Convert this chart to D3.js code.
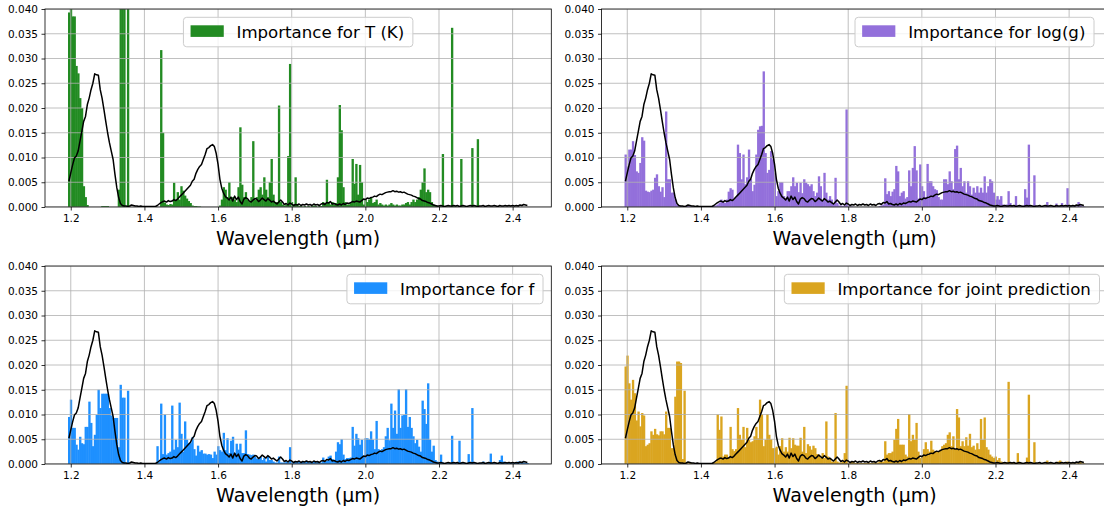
<!DOCTYPE html>
<html><head><meta charset="utf-8">
<script src="https://cdn.jsdelivr.net/npm/d3@7"></script>
<style>
body{margin:0;background:#fff}
svg{display:block}
text{font-family:"DejaVu Sans",sans-serif}
</style>
</head><body>
<svg id="chart" width="1104" height="510"></svg>
<script>
// Wavelength grid (µm), one bar per entry
const wavelengths = [
1.195,1.200,1.205,1.210,1.215,1.220,1.225,1.230,1.235,1.240,
1.245,1.250,1.255,1.260,1.265,1.270,1.275,1.280,1.285,1.290,
1.295,1.300,1.305,1.310,1.315,1.320,1.325,1.330,1.335,1.340,
1.345,1.350,1.355,1.360,1.365,1.370,1.375,1.380,1.385,1.390,
1.395,1.400,1.405,1.410,1.415,1.420,1.425,1.430,1.435,1.440,
1.445,1.450,1.455,1.460,1.465,1.470,1.475,1.480,1.485,1.490,
1.495,1.500,1.505,1.510,1.515,1.520,1.525,1.530,1.535,1.540,
1.545,1.550,1.555,1.560,1.565,1.570,1.575,1.580,1.585,1.590,
1.595,1.600,1.605,1.610,1.615,1.620,1.625,1.630,1.635,1.640,
1.645,1.650,1.655,1.660,1.665,1.670,1.675,1.680,1.685,1.690,
1.695,1.700,1.705,1.710,1.715,1.720,1.725,1.730,1.735,1.740,
1.745,1.750,1.755,1.760,1.765,1.770,1.775,1.780,1.785,1.790,
1.795,1.800,1.805,1.810,1.815,1.820,1.825,1.830,1.835,1.840,
1.845,1.850,1.855,1.860,1.865,1.870,1.875,1.880,1.885,1.890,
1.895,1.900,1.905,1.910,1.915,1.920,1.925,1.930,1.935,1.940,
1.945,1.950,1.955,1.960,1.965,1.970,1.975,1.980,1.985,1.990,
1.995,2.000,2.005,2.010,2.015,2.020,2.025,2.030,2.035,2.040,
2.045,2.050,2.055,2.060,2.065,2.070,2.075,2.080,2.085,2.090,
2.095,2.100,2.105,2.110,2.115,2.120,2.125,2.130,2.135,2.140,
2.145,2.150,2.155,2.160,2.165,2.170,2.175,2.180,2.185,2.190,
2.195,2.200,2.205,2.210,2.215,2.220,2.225,2.230,2.235,2.240,
2.245,2.250,2.255,2.260,2.265,2.270,2.275,2.280,2.285,2.290,
2.295,2.300,2.305,2.310,2.315,2.320,2.325,2.330,2.335,2.340,
2.345,2.350,2.355,2.360,2.365,2.370,2.375,2.380,2.385,2.390,
2.395,2.400,2.405,2.410,2.415,2.420,2.425,2.430,2.435,2.440];

// Normalised spectrum (black line), same in every panel
const spectrum = [
.0052,.0069,.0085,.0099,.0103,.0113,.0133,.0153,.0173,.0183,
.0207,.0220,.0237,.0250,.0269,.0267,.0266,.0237,.0220,.0197,
.0173,.0150,.0130,.0113,.0096,.0066,.0039,.0019,.0007,.0003,
.0002,.0002,.0001,.0002,.0004,.0003,.0002,.0002,.0001,.0002,
.0001,.0001,.0001,.0001,.0001,.0001,.0001,.0001,.0003,.0006,
.0009,.0011,.0012,.0010,.0013,.0011,.0012,.0015,.0013,.0016,
.0020,.0024,.0028,.0032,.0036,.0040,.0044,.0052,.0056,.0068,
.0076,.0082,.0086,.0096,.0106,.0118,.0120,.0124,.0126,.0122,
.0108,.0086,.0056,.0038,.0028,.0021,.0018,.0014,.0020,.0012,
.0022,.0015,.0020,.0011,.0006,.0016,.0019,.0017,.0012,.0010,
.0014,.0017,.0016,.0011,.0014,.0018,.0015,.0012,.0017,.0014,
.0010,.0012,.0009,.0006,.0010,.0014,.0010,.0005,.0007,.0004,
.0008,.0006,.0003,.0005,.0004,.0006,.0003,.0005,.0004,.0006,
.0004,.0005,.0003,.0006,.0004,.0005,.0003,.0006,.0007,.0005,
.0009,.0008,.0011,.0006,.0007,.0005,.0004,.0006,.0004,.0007,
.0005,.0008,.0007,.0009,.0011,.0010,.0012,.0011,.0010,.0013,
.0016,.0015,.0018,.0017,.0019,.0020,.0022,.0021,.0024,.0026,
.0025,.0027,.0029,.0030,.0031,.0031,.0033,.0031,.0032,.0030,
.0031,.0029,.0030,.0028,.0026,.0025,.0024,.0022,.0021,.0019,
.0017,.0016,.0013,.0012,.0011,.0009,.0008,.0006,.0004,.0003,
.0002,.0002,.0003,.0002,.0001,.0002,.0003,.0002,.0002,.0003,
.0002,.0003,.0001,.0002,.0003,.0002,.0001,.0002,.0003,.0002,
.0003,.0002,.0001,.0002,.0002,.0003,.0001,.0002,.0003,.0002,
.0002,.0003,.0002,.0001,.0003,.0002,.0002,.0003,.0002,.0003,
.0002,.0003,.0002,.0003,.0002,.0004,.0003,.0005,.0004,.0003];

const importanceT = [
.0393,.0450,.0385,.0385,.0285,.0270,.0220,.0200,.0042,.0020,
.0004,0,0,0,0,0,0,0,.0002,.0002,
.0002,.0002,0,0,0,0,0,.0035,.0450,.0450,
.0450,0,.0450,0,0,0,0,0,0,0,
0,0,0,0,0,0,0,0,0,0,
.0317,.0150,.0009,.0005,.0004,.0006,.0005,.0049,.0015,.0030,
.0015,.0042,.0033,.0023,.0017,.0012,.0008,.0003,.0002,.0002,
.0001,.0001,0,0,0,0,0,0,0,0,
0,0,.0003,.0015,.0040,.0035,.0020,.0050,.0015,.0020,
.0015,.0010,.0040,.0161,.0045,.0020,.0030,.0015,.0010,.0020,
.0133,.0015,.0020,.0035,.0040,.0025,.0060,.0035,.0020,.0050,
.0097,.0025,.0010,.0010,.0205,.0010,.0005,.0003,.0005,.0103,
.0289,.0010,.0005,.0060,.0005,.0002,.0002,0,.0002,0,
.0002,0,.0002,.0003,.0002,0,.0003,.0002,.0010,.0008,
.0055,.0010,.0005,.0010,.0005,.0008,.0060,.0206,.0155,.0040,
.0010,.0005,.0005,.0008,.0097,.0047,.0087,.0025,.0085,.0050,
.0005,.0015,.0010,.0015,.0020,.0008,.0010,.0015,.0005,.0008,
.0005,.0003,.0005,.0003,.0005,.0008,.0005,.0003,.0005,.0003,
.0003,.0005,.0005,.0008,.0010,.0005,.0010,.0015,.0010,.0015,
.0020,.0035,.0050,.0078,.0030,.0035,.0030,.0010,.0005,.0002,
.0002,.0001,.0001,.0107,.0001,.0001,.0001,0,.0362,.0001,
.0001,0,0,.0097,.0001,0,0,0,0,.0119,
.0001,.0001,.0137,0,0,0,0,0,0,0,
0,0,0,0,0,0,0,0,0,0,
0,0,0,0,0,0,0,0,0,0];

const importanceLogg = [
.0106,.0082,.0116,.0116,.0133,.0105,.0072,.0069,.0089,.0141,
.0134,.0033,.0031,.0030,.0033,.0035,.0059,.0066,.0042,.0031,
.0040,.0020,.0193,.0056,.0056,.0029,.0029,.0015,.0005,.0003,
.0002,.0001,.0001,.0002,.0003,.0001,.0001,.0002,.0001,.0001,
.0002,.0001,.0001,.0001,0,0,0,0,.0003,.0003,
.0005,.0008,.0015,.0010,.0008,.0015,.0031,.0038,.0035,.0015,
.0020,.0126,.0109,.0056,.0106,.0046,.0060,.0116,.0056,.0032,
.0045,.0106,.0156,.0163,.0164,.0274,.0109,.0069,.0075,.0113,
.0096,.0069,.0022,.0032,.0050,.0050,.0022,.0018,.0032,.0032,
.0042,.0060,.0042,.0049,.0030,.0049,.0028,.0056,.0049,.0046,
.0042,.0046,.0032,.0022,.0029,.0062,.0042,.0013,.0069,.0029,
.0015,.0022,.0015,.0008,.0059,.0008,.0003,.0003,.0002,.0003,
.0197,.0003,.0001,.0001,0,0,0,0,0,0,
0,0,0,0,0,0,0,0,.0002,.0003,
.0005,.0058,.0026,.0032,.0022,.0031,.0036,.0083,.0072,.0022,
.0029,.0032,.0017,.0020,.0074,.0042,.0079,.0123,.0074,.0017,
.0086,.0042,.0032,.0020,.0087,.0052,.0052,.0042,.0036,.0034,
.0020,.0015,.0015,.0056,.0056,.0046,.0072,.0052,.0036,.0117,
.0124,.0056,.0079,.0042,.0052,.0029,.0052,.0042,.0025,.0039,
.0029,.0042,.0029,.0039,.0029,.0062,.0029,.0042,.0056,.0052,
.0029,.0015,.0022,.0015,.0022,.0005,.0003,.0005,.0032,.0008,
.0003,.0002,.0022,.0002,.0002,.0002,.0003,.0036,.0019,.0126,
.0003,.0002,.0064,.0002,.0001,.0001,.0001,.0001,.0002,.0010,
.0001,.0001,.0001,.0001,.0007,.0001,.0001,.0008,.0001,.0001,
.0038,.0001,.0001,.0001,.0001,.0001,.0010,.0005,.0001,.0001];

const importanceF = [
.0095,.0130,.0073,.0073,.0039,.0029,.0055,.0042,.0040,.0075,
.0075,.0126,.0083,.0036,.0059,.0099,.0150,.0113,.0142,.0142,
.0142,.0142,.0113,.0098,.0093,.0093,.0093,.0034,.0160,.0134,
.0134,.0002,.0148,0,0,0,0,0,0,0,
0,0,0,0,0,0,0,0,.0036,.0005,
.0122,.0020,.0100,.0019,.0022,.0025,.0118,.0029,.0049,.0034,
.0124,.0061,.0025,.0086,.0049,.0042,.0042,.0054,.0030,.0017,
.0037,.0025,.0028,.0021,.0021,.0019,.0020,.0019,.0012,.0025,
.0019,.0036,.0028,.0025,.0063,.0028,.0052,.0022,.0047,.0055,
.0022,.0041,.0029,.0041,.0022,.0022,.0068,.0020,.0019,.0018,
.0019,.0015,.0011,.0010,.0015,.0008,.0012,.0005,.0015,.0008,
.0008,.0005,.0003,.0003,.0015,.0003,.0003,.0003,.0005,.0003,
.0034,.0005,.0003,.0005,.0003,.0004,.0003,.0005,.0003,.0004,
.0003,.0005,.0003,.0004,.0003,.0005,.0004,.0003,.0013,.0005,
.0006,.0015,.0017,.0010,.0008,.0025,.0044,.0040,.0050,.0019,
.0010,.0012,.0012,.0013,.0075,.0037,.0061,.0052,.0039,.0049,
.0015,.0052,.0052,.0050,.0066,.0049,.0030,.0087,.0030,.0028,
.0030,.0034,.0056,.0073,.0048,.0122,.0073,.0108,.0061,.0151,
.0073,.0098,.0099,.0151,.0075,.0095,.0073,.0056,.0042,.0049,
.0035,.0025,.0128,.0111,.0081,.0163,.0049,.0025,.0037,.0008,
.0005,.0003,.0019,.0003,.0002,.0002,.0002,.0002,.0057,.0003,
.0002,.0002,.0047,.0002,.0002,.0002,.0002,.0020,.0002,.0113,
.0003,.0002,.0002,.0002,.0002,.0005,.0002,.0002,.0002,.0021,
.0002,.0002,.0002,.0002,.0008,.0017,.0005,.0002,.0002,.0002,
.0002,.0002,.0002,.0002,.0005,.0002,.0002,.0003,.0002,.0002];

const importanceJoint = [
.0197,.0219,.0163,.0130,.0170,.0143,.0088,.0106,.0076,.0103,
.0098,.0036,.0039,.0042,.0066,.0059,.0071,.0060,.0058,.0066,
.0066,.0060,.0106,.0073,.0073,.0032,.0032,.0136,.0207,.0207,
.0204,.0010,.0148,.0002,.0001,.0003,.0001,.0001,.0001,0,
0,0,0,0,0,0,0,0,.0003,.0005,
.0100,.0069,.0096,.0015,.0019,.0019,.0012,.0075,.0030,.0026,
.0030,.0113,.0059,.0049,.0075,.0034,.0073,.0049,.0044,.0046,
.0056,.0075,.0052,.0130,.0101,.0036,.0049,.0101,.0059,.0050,
.0032,.0032,.0035,.0019,.0036,.0052,.0025,.0034,.0025,.0053,
.0032,.0052,.0039,.0037,.0037,.0053,.0025,.0075,.0022,.0040,
.0036,.0029,.0037,.0032,.0020,.0019,.0012,.0022,.0012,.0086,
.0015,.0012,.0005,.0005,.0103,.0005,.0003,.0003,.0005,.0022,
.0158,.0003,.0003,.0005,.0003,.0002,.0002,.0002,.0002,.0002,
.0002,.0002,.0003,.0002,.0002,.0003,.0002,.0003,.0005,.0005,
.0005,.0046,.0019,.0022,.0022,.0025,.0049,.0071,.0091,.0039,
.0039,.0039,.0019,.0015,.0101,.0046,.0059,.0049,.0083,.0025,
.0012,.0015,.0030,.0044,.0030,.0025,.0047,.0029,.0025,.0025,
.0025,.0029,.0036,.0039,.0042,.0059,.0064,.0036,.0056,.0030,
.0111,.0094,.0036,.0046,.0036,.0054,.0037,.0061,.0034,.0037,
.0029,.0042,.0030,.0091,.0049,.0094,.0034,.0029,.0019,.0015,
.0012,.0015,.0008,.0012,.0005,.0003,.0003,.0003,.0166,.0003,
.0002,.0002,.0002,.0022,.0002,.0002,.0002,.0002,.0013,.0140,
.0003,.0002,.0044,.0002,.0001,.0001,.0002,.0001,.0001,.0007,
.0001,.0002,.0001,.0001,.0002,.0005,.0007,.0001,.0001,.0001,
.0005,.0001,.0001,.0001,.0001,.0001,.0003,.0005,.0001,.0001];

const legendLabels = ["Importance for T (K)","Importance for log(g)","Importance for f","Importance for joint prediction"];
const barColors = ["#228b22","#9370db","#1e90ff","#daa520"];
const xTickValues = [1.2,1.4,1.6,1.8,2.0,2.2,2.4];
const yTickValues = [0,0.005,0.010,0.015,0.020,0.025,0.030,0.035,0.040];
const xLabel = "Wavelength (µm)";

// ---- layout ----
const W = 506.3, H = 198;
const series = [importanceT, importanceLogg, importanceF, importanceJoint];
const layout = [
  {left:45,    top:9,   legend:"center"},
  {left:601.5, top:9,   legend:"right", rightInset:13.8},
  {left:45,    top:266, legend:"right", rightInset:8.3},
  {left:601.5, top:266, legend:"right", rightInset:8.3}
];
const binHalf = 0.0025;
const seamOverlap = 0.5; // px, hides antialiasing seams between adjacent bars

const svg = d3.select("#chart");
svg.append("rect").attr("width",1104).attr("height",510).attr("fill","#fff");

const x = d3.scaleLinear().domain([1.13, 2.505]).range([0, W]);
const y = d3.scaleLinear().domain([0, 0.04]).range([H, 0]);

series.forEach((vals, i) => {
  const L = layout[i];
  const g = svg.append("g").attr("transform", `translate(${L.left},${L.top})`);
  const clipId = "clip" + i;
  g.append("clipPath").attr("id", clipId).append("rect").attr("width", W).attr("height", H);
  const plot = g.append("g").attr("clip-path", `url(#${clipId})`);

  const data = wavelengths.map((w, k) => ({w, v: vals[k], s: spectrum[k]}));

  // bars
  plot.append("g").selectAll("rect").data(data.filter(d => d.v > 0)).join("rect")
    .attr("x", d => x(d.w - binHalf))
    .attr("width", d => x(d.w + binHalf) - x(d.w - binHalf) + seamOverlap)
    .attr("y", d => y(d.v))
    .attr("height", d => y(0) - y(d.v))
    .attr("fill", barColors[i]);

  // grid (drawn above bars, below line, like matplotlib)
  const grid = plot.append("g").attr("stroke", "#b0b0b0").attr("stroke-width", 0.8);
  grid.selectAll("line.v").data(xTickValues).join("line").attr("class","v")
    .attr("x1", d => x(d)).attr("x2", d => x(d)).attr("y1", 0).attr("y2", H);
  grid.selectAll("line.h").data(yTickValues).join("line").attr("class","h")
    .attr("y1", d => y(d)).attr("y2", d => y(d)).attr("x1", 0).attr("x2", W);

  // spectrum line
  plot.append("path").datum(data)
    .attr("fill", "none").attr("stroke", "#000").attr("stroke-width", 1.5)
    .attr("stroke-linejoin", "round")
    .attr("d", d3.line().x(d => x(d.w)).y(d => y(d.s)));

  // axes
  const ax = g.append("g").attr("transform", `translate(0,${H})`)
    .call(d3.axisBottom(x).tickValues(xTickValues).tickFormat(d3.format(".1f")).tickSizeOuter(0).tickSize(3.5).tickPadding(4.5));
  const ay = g.append("g")
    .call(d3.axisLeft(y).tickValues(yTickValues).tickFormat(d3.format(".3f")).tickSizeOuter(0).tickSize(3.5).tickPadding(3.5));
  [ax, ay].forEach(a => {
    a.attr("font-family", "DejaVu Sans, sans-serif").attr("font-size", 10.5);
    a.select(".domain").remove();
    a.selectAll(".tick line").attr("stroke", "#000").attr("stroke-width", 0.8);
    a.selectAll(".tick text").attr("fill", "#000");
  });

  // frame
  g.append("rect").attr("width", W).attr("height", H)
    .attr("fill", "none").attr("stroke", "#000").attr("stroke-width", 0.8);

  // x label
  g.append("text").attr("x", W / 2).attr("y", H + 37.5)
    .attr("text-anchor", "middle").attr("font-size", 19).attr("fill", "#000")
    .text(xLabel);

  // legend
  const fs = 16.6;
  const lg = g.append("g");
  const frame = lg.append("rect");
  const handle = lg.append("rect");
  const txt = lg.append("text").attr("font-size", fs).attr("fill", "#000").text(legendLabels[i]);
  const tw = txt.node().getComputedTextLength();
  const pad = 0.4 * fs, hl = 2 * fs, htp = 0.8 * fs;
  const bw = pad + hl + htp + tw + pad + 2;
  const bh = 29.5;
  const bx = L.legend === "center" ? (W - bw) / 2 : W - L.rightInset - bw;
  const by = 8.3;
  frame.attr("x", bx).attr("y", by).attr("width", bw).attr("height", bh)
    .attr("rx", 3.3).attr("fill", "#fff").attr("fill-opacity", 0.8)
    .attr("stroke", "#cccccc").attr("stroke-width", 1);
  handle.attr("x", bx + pad + 0.5).attr("y", by + 8).attr("width", hl).attr("height", 11.6)
    .attr("fill", barColors[i]);
  txt.attr("x", bx + pad + hl + htp).attr("y", by + 20.8);
});
</script>
</body></html>
